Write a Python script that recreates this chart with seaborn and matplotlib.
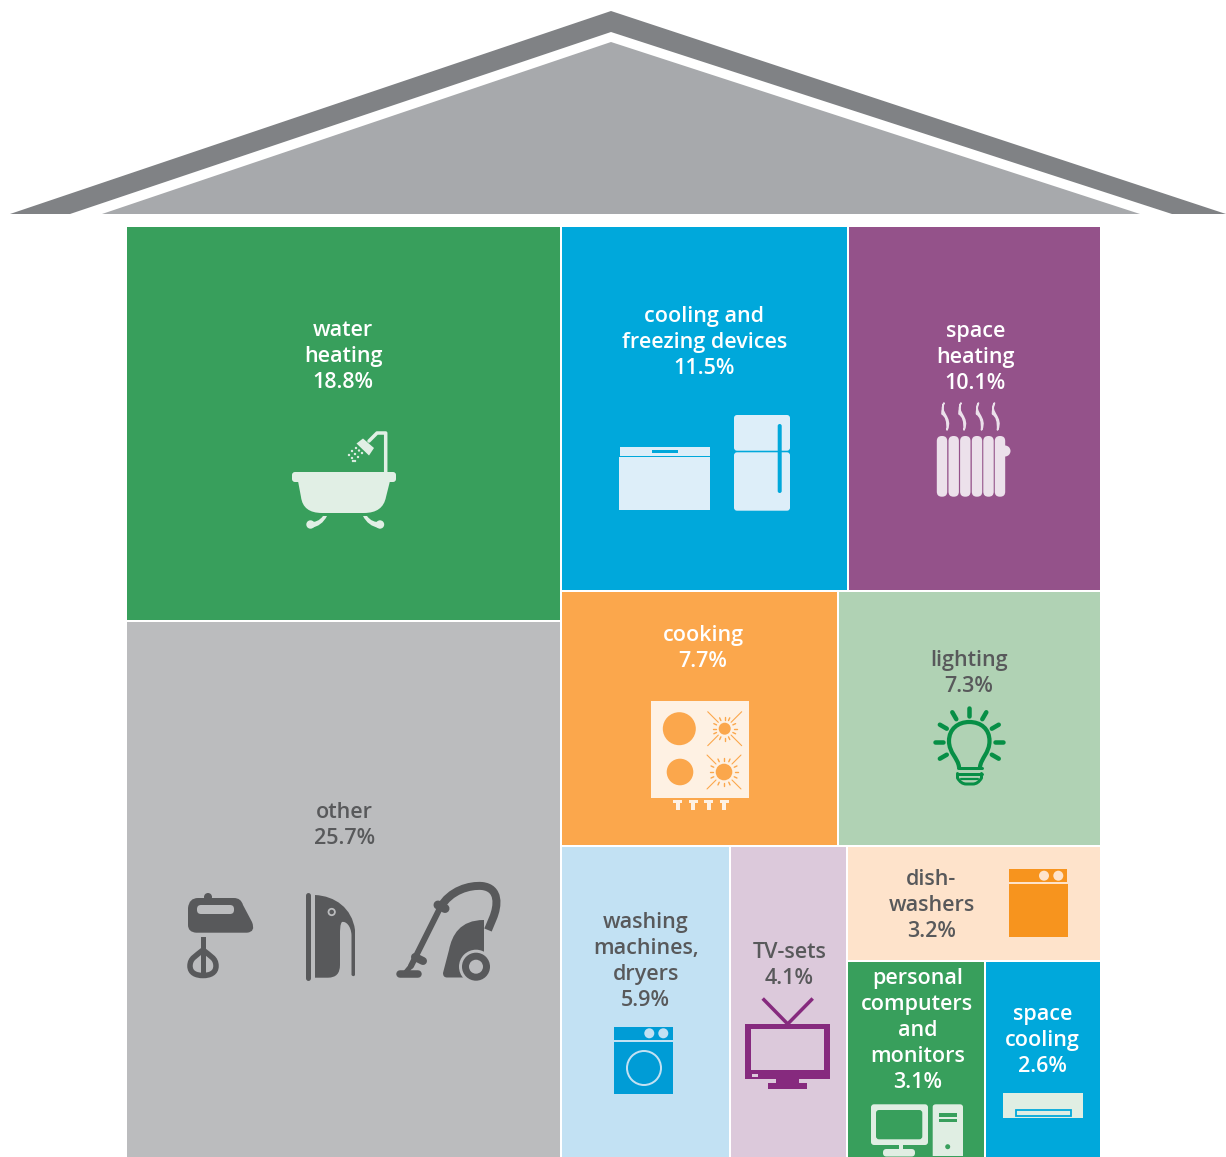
import numpy as np
import matplotlib
matplotlib.use("Agg")
import matplotlib.pyplot as plt
from matplotlib.patches import Rectangle, Polygon, Circle, FancyBboxPatch, PathPatch
from matplotlib.path import Path
import seaborn as sns

# ---------- data ----------
categories = ["water heating", "other", "cooling and freezing devices", "space heating", "cooking",
              "lighting", "washing machines, dryers", "TV-sets", "dish-washers",
              "personal computers and monitors", "space cooling"]
shares = [18.8, 25.7, 11.5, 10.1, 7.7, 7.3, 5.9, 4.1, 3.2, 3.1, 2.6]
label_lines = [["water", "heating"], ["other"], ["cooling and", "freezing devices"], ["space", "heating"],
               ["cooking"], ["lighting"], ["washing", "machines,", "dryers"], ["TV-sets"], ["dish-", "washers"],
               ["personal", "computers", "and", "monitors"], ["space", "cooling"]]
cell_colors = ["#389F5C", "#BBBCBE", "#00A8DB", "#94528A", "#FBA74C", "#B0D2B4",
               "#C2E1F3", "#DCC9DB", "#FEE3CB", "#389F5C", "#00A8DB"]
text_colors = ["white", "#58595B", "white", "white", "white", "#58595B",
               "#58595B", "#58595B", "#58595B", "white", "white"]

sns.set_theme(style="white")
palette = sns.color_palette(cell_colors)
plt.rcParams["font.family"] = ["Open Sans", "DejaVu Sans"]

fig = plt.figure(figsize=(12.26, 11.57), dpi=100)
ax = fig.add_axes([0, 0, 1, 1])
ax.set_xlim(0, 1226)
ax.set_ylim(1157, 0)
ax.axis("off")
PT = 0.72  # px -> pt

# ---------- roof ----------
ax.add_patch(Polygon([(10, 214), (611, 11), (1226, 214), (1172, 214), (611, 32), (70, 214)], fc="#808285", ec="none"))
ax.add_patch(Polygon([(102, 214), (611, 42), (1140, 214)], fc="#A7A9AC", ec="none"))

# ---------- treemap layout computed from the shares ----------
def edges(start, end, vals, nudge=None):
    w = np.array(vals, float)
    if nudge is not None:
        w = w * np.array(nudge)
    return start + (end - start) * np.concatenate([[0], np.cumsum(w) / w.sum()])

X0, X1, Y0, Y1 = 126, 1100.5, 226, 1159
s = shares
col = edges(X0, X1, [s[0] + s[1], sum(s[2:])], [1.002, 0.9984])
left = edges(Y0, Y1, [s[0], s[1]], [1.002, 1])
rows = edges(Y0, Y1, [s[2] + s[3], s[4] + s[5], sum(s[6:])], [1.0044, 1.0084, 0.9845])
r1 = edges(col[1], X1, s[2:4])
r2 = edges(col[1], X1, s[4:6])
r3 = edges(col[1], X1, [s[6], s[7], sum(s[8:])], [1.004, 1.004, 0.995])
stack = edges(rows[2], rows[3], [s[8], s[9] + s[10]], [1.02, 0.988])
st2 = edges(r3[2], r3[3], s[9:11])
rects = [
    (col[0], left[0], col[1], left[1]), (col[0], left[1], col[1], left[2]),
    (r1[0], rows[0], r1[1], rows[1]), (r1[1], rows[0], r1[2], rows[1]),
    (r2[0], rows[1], r2[1], rows[2]), (r2[1], rows[1], r2[2], rows[2]),
    (r3[0], rows[2], r3[1], rows[3]), (r3[1], rows[2], r3[2], rows[3]),
    (r3[2], stack[0], r3[3], stack[1]),
    (st2[0], stack[1], st2[1], stack[2]), (st2[1], stack[1], st2[2], stack[2]),
]
for (x0, y0, x1, y1), c in zip(rects, palette):
    ax.add_patch(Rectangle((x0, y0), x1 - x0, y1 - y0, fc=c, ec="white", lw=2 * PT))

# ---------- labels ----------
first_baseline = [336, 818, 322, 337, 641, 666, 928, 958, 885, 984, 1020]
x_shift = [0, 1, 0, 1, 4, 0, 0.5, 1, -42.5, 1, 0]
for rect, lines, v, tc, b, dx in zip(rects, label_lines, shares, text_colors, first_baseline, x_shift):
    cx = (rect[0] + rect[2]) / 2 + dx
    for i, t in enumerate(lines + [f"{v:.1f}%"]):
        ax.text(cx, b + 26 * i, t, color=tc, ha="center", va="baseline", fontsize=15.5, fontweight=600)

# ---------- icon helpers ----------
def box(x0, y0, x1, y1, c, r=0, z=3):
    if r:
        ax.add_patch(FancyBboxPatch((x0 + r, y0 + r), x1 - x0 - 2 * r, y1 - y0 - 2 * r,
                                    boxstyle=f"round,pad={r},rounding_size={r}", fc=c, ec="none", zorder=z))
    else:
        ax.add_patch(Rectangle((x0, y0), x1 - x0, y1 - y0, fc=c, ec="none", zorder=z))

def disc(x, y, r, c, z=3):
    ax.add_patch(Circle((x, y), r, fc=c, ec="none", zorder=z))

def ring(x, y, r, c, w, z=3):
    ax.add_patch(Circle((x, y), r, fc="none", ec=c, lw=w * PT, zorder=z))

def line(pts, c, w, z=3, cap="round"):
    xs, ys = zip(*pts)
    ax.plot(xs, ys, color=c, lw=w * PT, solid_capstyle=cap, solid_joinstyle="round", zorder=z)

def svg(cmds, fc="none", ec="none", w=0, z=3, cap="round"):
    verts, codes = [], []
    for c, *p in cmds:
        if c == "Z":
            verts.append((0, 0)); codes.append(Path.CLOSEPOLY); continue
        code = {"M": Path.MOVETO, "L": Path.LINETO, "Q": Path.CURVE3, "C": Path.CURVE4}[c]
        for pt in zip(p[::2], p[1::2]):
            verts.append(pt); codes.append(code)
    ax.add_patch(PathPatch(Path(verts, codes), fc=fc, ec=ec, lw=w * PT, capstyle=cap, joinstyle="round", zorder=z))

# bath
c = "#E1EFE5"
box(292, 472, 396, 482, c, 3)
svg([("M", 298, 481), ("L", 301, 497), ("Q", 303, 513, 322, 513), ("L", 364, 513), ("Q", 383, 513, 386, 497),
     ("L", 390, 481), ("Z",)], fc=c)
svg([("M", 323, 516), ("Q", 318, 523, 309, 522), ("L", 311, 528), ("Q", 322, 526, 327, 516), ("Z",)], fc=c)
disc(310.5, 524.5, 4.2, c)
svg([("M", 367, 516), ("Q", 372, 523, 381, 522), ("L", 379, 528), ("Q", 368, 526, 363, 516), ("Z",)], fc=c)
disc(380, 524.5, 4.2, c)
line([(385.7, 472), (385.7, 433), (377, 433), (369, 441)], c, 3.5)
ax.add_patch(Polygon([(356.5, 443.5), (363, 438.5), (374, 448), (369, 455.5)], fc=c, ec="none", zorder=3))
for px, py in [(356, 448), (359, 450.5), (362, 453), (352, 451), (355, 454), (358, 457),
               (349, 455), (352, 458), (355, 461), (353, 461)]:
    disc(px, py, 1.2, c)

# freezer and fridge
c, b = "#DDEEF9", palette[2]
box(619.5, 447, 710, 456, c)
box(619, 457, 710, 510, c)
box(651.5, 450, 678, 453, b)
box(734, 415, 790, 450.7, c, 3)
box(734, 452.3, 790, 510.7, c, 3)
box(777.7, 424, 781.7, 493, b, 2)

# radiator
c = "#ECE1EB"
for cx in [942, 953.7, 965.3, 977, 988.5, 1000]:
    box(cx - 5.2, 436, cx + 5.2, 496.7, c, 5)
disc(1005, 451, 5.5, c)
for sx in [945, 962, 979.5, 995.5]:
    svg([("M", sx - 1, 403), ("C", sx - 7, 412, sx + 8, 417, sx + 2, 430), ("Q", sx + 3, 417, sx - 3, 414),
         ("Q", sx - 3, 408, sx - 1, 403), ("Z",)], fc=c, ec=c, w=1.6)

# hob
c, o = "#FEF1E3", palette[4]
box(651, 701, 748.7, 798, c)
disc(679.3, 728.7, 16.5, o, 4)
disc(680, 772, 13.3, o, 4)
for sx, sy, r in [(724.7, 728.7, 6), (724, 772, 8.3)]:
    disc(sx, sy, r, o, 4)
    for a in np.deg2rad([45, 135, 225, 315]):
        line([(sx + (r + 3) * np.cos(a), sy + (r + 3) * np.sin(a)), (sx + 24 * np.cos(a), sy + 24 * np.sin(a))], o, 1.1, 4)
    for a in np.deg2rad([0, 25, 65, 90, 115, 155, 180, 205, 245, 270, 295, 335]):
        line([(sx + (r + 3) * np.cos(a), sy + (r + 3) * np.sin(a)), (sx + (r + 6) * np.cos(a), sy + (r + 6) * np.sin(a))], o, 1.4, 4)
for fx in [677.7, 693, 708.7, 724]:
    box(fx - 4.5, 800, fx + 4.5, 803, c)
    box(fx - 2, 803, fx + 2, 810, c)

# bulb
c = "#078F46"
for a in [0, 30, 60, 90, 120, 150, 180, 210, 330]:
    t = np.deg2rad(a)
    line([(969.3 + 26 * np.cos(t), 741.7 - 26 * np.sin(t)), (969.3 + 34 * np.cos(t), 741.7 - 34 * np.sin(t))], c, 4.5)
svg([("M", 959, 767), ("C", 958, 758, 949, 753, 949, 741), ("C", 949, 729, 958, 722, 969.3, 722),
     ("C", 981, 722, 989.5, 729, 989.5, 741), ("C", 989.5, 753, 981, 758, 980, 767)], ec=c, w=4.2)
line([(957.5, 768), (981.5, 768)], c, 3)
line([(957.5, 773.5), (981.5, 773.5)], c, 3)
svg([("M", 957.5, 773.5), ("L", 957.5, 778), ("Q", 961, 784, 966, 784), ("L", 973, 784), ("Q", 978, 784, 981.5, 778),
     ("L", 981.5, 773.5)], ec=c, w=3)
line([(961, 779), (978, 779)], c, 2.2)

# mixer
d, g = "#58595B", palette[1]
svg([("M", 198, 898), ("L", 234, 898), ("Q", 241, 898, 243, 905), ("L", 252, 922), ("Q", 256, 932, 247, 932.7),
     ("L", 196, 932.7), ("Q", 188, 932, 188, 925), ("L", 188, 908), ("Q", 189, 898, 198, 898), ("Z",)], fc=d)
disc(208, 897, 4, d)
box(197, 905, 234, 914, g, 4)
box(200.7, 936.7, 206, 952, d)
svg([("M", 203, 950), ("C", 196, 956, 190, 958, 190, 966), ("C", 190, 973, 196, 975.5, 203, 975.5),
     ("C", 210, 975.5, 216, 973, 216, 966), ("C", 216, 958, 210, 956, 203, 950), ("Z",)], ec=d, w=5.5)
line([(203, 952), (203, 975)], d, 5, cap="butt")

# iron
line([(307.5, 895), (307.5, 977.5)], d, 5)
svg([("M", 315, 895), ("C", 335, 896, 352, 908, 355, 930), ("L", 355, 975), ("Q", 353.5, 977.5, 351.5, 975),
     ("L", 351.5, 935), ("C", 351, 926, 346, 921, 342, 922), ("C", 340, 924, 340, 930, 340, 935), ("L", 340, 965),
     ("Q", 340, 977.7, 328, 977.7), ("L", 315, 977.7), ("Z",)], fc=d)
ring(331.7, 912, 3.2, g, 1.8, 4)

# vacuum
svg([("M", 440, 908), ("C", 450, 890, 470, 885, 482, 886), ("C", 500, 888, 498, 906, 493, 918), ("L", 488, 930)],
    ec=d, w=8, cap="butt")
line([(441, 906), (411, 966)], d, 6)
line([(406, 972), (411, 966)], d, 5)
line([(438, 905), (445, 908.5)], d, 9)
line([(415, 957), (423, 961)], d, 8)
line([(400, 973.5), (418, 973.5)], d, 7.5)
svg([("M", 484, 920), ("C", 460, 920, 452, 935, 449, 950), ("L", 443, 973), ("Q", 443, 977.5, 447, 977.5),
     ("L", 470, 977.5), ("L", 484, 960), ("Z",)], fc=d)
disc(476, 966.7, 17, g, 4)
disc(476, 966.7, 14, d, 4)
disc(476, 966.7, 7, g, 4)

# washer
c, p = "#009CD6", palette[6]
box(614, 1026.7, 672.7, 1040, c)
box(614, 1041.7, 672.7, 1094.3, c)
disc(649.3, 1033.3, 5, p, 4)
disc(663.3, 1033.3, 5, p, 4)
ring(644, 1068, 17, p, 2, 4)

# tv
c, p = "#862A7E", palette[7]
box(745, 1024, 830, 1079.3, c)
box(750.7, 1029.3, 824.3, 1070, p, z=4)
box(751.7, 1074, 757.7, 1076.7, p, z=4)
box(776, 1079, 799, 1084, c)
box(768.3, 1083.3, 807, 1089, c)
line([(787.7, 1024), (762.7, 998.5)], c, 3.5, cap="butt")
line([(787.7, 1024), (812.7, 998.5)], c, 3.5, cap="butt")

# dishwasher
c, p = "#F7941E", palette[8]
box(1009, 869, 1067, 881.7, c)
box(1009, 884, 1068, 937, c)
disc(1044, 875.7, 5, p, 4)
disc(1058.3, 875.7, 5, p, 4)

# computer
c, g2 = "#E0EEE3", palette[9]
box(871, 1104.3, 928, 1145, c, 3)
box(876, 1110, 922.3, 1139.3, g2, 3, 4)
box(899, 1145, 903, 1151, c)
box(883, 1149, 915, 1156.5, c, 3.5)
svg([("M", 936, 1104.3), ("L", 960, 1104.3), ("Q", 963, 1104.3, 963, 1107), ("L", 963, 1156), ("L", 932.7, 1156),
     ("L", 932.7, 1107), ("Q", 932.7, 1104.3, 936, 1104.3), ("Z",)], fc=c)
box(939, 1113, 957, 1116.5, g2, z=4)
box(939, 1119, 957, 1121.7, g2, z=4)
disc(947.7, 1146.7, 2.5, g2, 4)

# air conditioner
c, b = "#E0EEE3", palette[10]
box(1003, 1093, 1083, 1118, c)
ax.add_patch(Rectangle((1016, 1110), 55, 6, fc=c, ec=b, lw=1.8 * PT, zorder=4))

fig.savefig("out.png", dpi=100, facecolor="white")
